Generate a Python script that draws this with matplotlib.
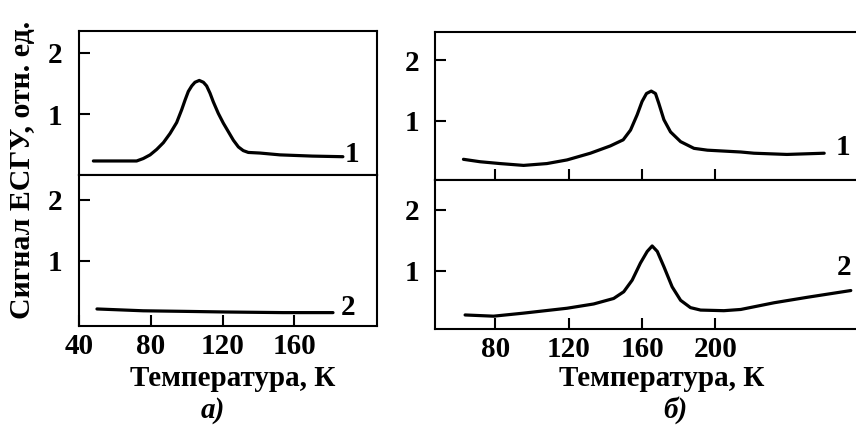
#!/usr/bin/env python3
"""ESR signal vs temperature, panels a) and б), two samples each."""

import matplotlib
matplotlib.use("Agg")
import matplotlib.pyplot as plt

# panel a), curve 1
a1_temp = [48.0, 60, 72.1, 75.8, 79.6, 83.3, 87.0, 90.7, 94.4, 97.2, 99.1,
           100.9, 102.8, 104.6, 107.0, 109.3, 111.1, 113.0, 114.8, 117.6,
           120.4, 123.2, 126.0, 128.8, 131.5, 134.3, 140.8, 152.0, 170, 187]
a1_signal = [0.23, 0.23, 0.23, 0.27, 0.33, 0.42, 0.53, 0.68, 0.86, 1.07, 1.23,
             1.37, 1.46, 1.52, 1.55, 1.52, 1.46, 1.34, 1.20, 1.01,
             0.85, 0.71, 0.57, 0.46, 0.40, 0.37, 0.36, 0.33, 0.31, 0.30]

# panel a), curve 2
a2_temp = [50, 75.7, 100, 122, 153.6, 181.5]
a2_signal = [0.21, 0.18, 0.17, 0.16, 0.15, 0.15]

# panel б), curve 1
b1_temp = [62.6, 71.7, 82.6, 95.4, 108.1, 119.1, 131.8, 142.7, 149.7, 153.7,
           157.3, 160.0, 162.4, 165.0, 167.3, 169.1, 171.9, 175.5, 181.0,
           188.3, 195.6, 213.8, 221, 239, 259.3]
b1_signal = [0.37, 0.33, 0.30, 0.27, 0.30, 0.36, 0.47, 0.59, 0.69, 0.85,
             1.10, 1.32, 1.45, 1.49, 1.45, 1.29, 1.02, 0.82, 0.66,
             0.55, 0.52, 0.49, 0.47, 0.45, 0.47]

# panel б), curve 2
b2_temp = [63.5, 79, 95.4, 119.1, 133.6, 144.5, 150.0, 154.6, 159.1, 162.8,
           165.5, 168.3, 171.9, 176.4, 181.0, 186.4, 191.9, 204.6, 213.8,
           232, 250.2, 273.8]
b2_signal = [0.28, 0.26, 0.31, 0.39, 0.46, 0.55, 0.66, 0.85, 1.13, 1.32,
             1.41, 1.32, 1.07, 0.74, 0.52, 0.40, 0.36, 0.35, 0.37,
             0.48, 0.57, 0.68]

a_xticks = [40, 80, 120, 160]
b_xticks = [80, 120, 160, 200]
yticks = [1, 2]

FONT = "Liberation Serif"
FS = 21
LW_AX = 1.5
LW_CURVE = 2.3


def bold_labels(labels):
    for lab in labels:
        lab.set_fontfamily(FONT)
        lab.set_fontweight("bold")


def style_axis(ax, ypad):
    for s in ax.spines.values():
        s.set_linewidth(LW_AX)
    ax.set_yticks(yticks)
    ax.tick_params(axis="both", direction="in", length=8, width=LW_AX,
                   labelsize=FS, pad=ypad)
    bold_labels(ax.get_yticklabels())


def draw_curve(ax, x, y):
    ax.plot(x, y, color="black", lw=LW_CURVE,
            solid_joinstyle="round", solid_capstyle="round")


def main():
    fig = plt.figure(figsize=(8.56, 4.28), dpi=100)

    # panel a)
    a_top = fig.add_axes([0.0923, 0.5911, 0.3481, 0.3364])
    a_bot = fig.add_axes([0.0923, 0.2383, 0.3481, 0.3528])
    # panel б), right edge runs off the figure
    b_top = fig.add_axes([0.5082, 0.5794, 0.4930, 0.3458])
    b_bot = fig.add_axes([0.5082, 0.2313, 0.4930, 0.3481])

    draw_curve(a_top, a1_temp, a1_signal)
    draw_curve(a_bot, a2_temp, a2_signal)
    draw_curve(b_top, b1_temp, b1_signal)
    draw_curve(b_bot, b2_temp, b2_signal)

    for ax in (a_top, a_bot):
        ax.set_xlim(40, 206)
    a_top.set_ylim(0, 2.36)
    a_bot.set_ylim(-0.07, 2.41)
    for ax in (b_top, b_bot):
        ax.set_xlim(47.1, 277.2)
        ax.spines["right"].set_visible(False)
    b_top.set_ylim(0.03, 2.46)
    b_bot.set_ylim(0.05, 2.49)

    style_axis(a_top, 12)
    style_axis(a_bot, 12)
    style_axis(b_top, 11)
    style_axis(b_bot, 11)

    a_top.set_xticks([])
    a_bot.set_xticks(a_xticks)
    b_top.set_xticks(b_xticks)
    b_top.set_xticklabels([])
    b_bot.set_xticks(b_xticks)
    for ax in (a_bot, b_bot):
        ax.tick_params(axis="x", pad=5)
        bold_labels(ax.get_xticklabels())

    txt = dict(fontsize=FS, fontweight="bold", family=FONT,
               ha="center", va="center")
    a_top.text(192, 0.34, "1", **txt)
    a_bot.text(190, 0.23, "2", **txt)
    b_top.text(269.5, 0.57, "1", **txt)
    b_bot.text(270, 1.05, "2", **txt)

    fig.text(23 / 856, 1 - 170 / 428, "Сигнал ЕСГУ, отн. ед.", rotation=90,
             **{**txt, "fontsize": 21.5})
    fig.text(233 / 856, 1 - 378 / 428, "Температура, К", **txt)
    fig.text(662 / 856, 1 - 378 / 428, "Температура, К", **txt)
    fig.text(213 / 856, 1 - 410 / 428, "а)", style="italic", **txt)
    fig.text(675 / 856, 1 - 410 / 428, "б)", style="italic", **txt)

    fig.savefig("out.png", dpi=100)
    plt.close(fig)


if __name__ == "__main__":
    main()
